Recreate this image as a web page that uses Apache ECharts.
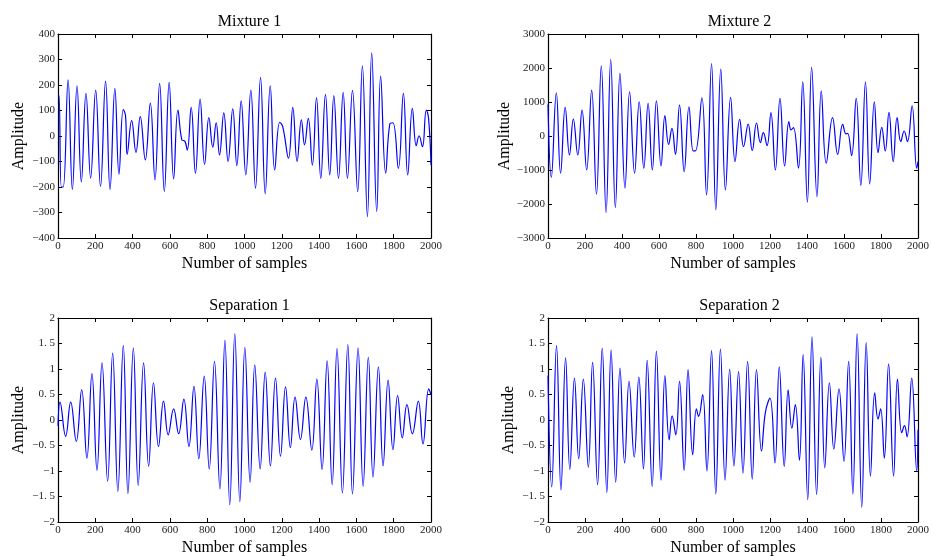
<!DOCTYPE html>
<html>
<head>
<meta charset="utf-8">
<script src="https://cdn.jsdelivr.net/npm/echarts@6/dist/echarts.min.js"></script>
<style>
html, body { margin: 0; padding: 0; background: #fff; }
#chart { width: 932px; height: 557px; }
</style>
</head>
<body>
<div id="chart"></div>
<script>
// [sample, amplitude] (peaks, troughs, shoulders)
var mixture1 = [[0,160],[5,160],[18,-200],[28,-200],[54,220],[77,-210],[102,197],[125,-180],[150,167],[175,-165],[202,180],[228,-198],[255,215],[279,-210],[305,187],[327,-150],[350,104],[362,80],[371,-72],[395,60],[418,-64],[441,76],[468,-94],[495,129],[520,-172],[545,206],[570,-218],[596,210],[620,-168],[643,102],[664,-15],[680,-20],[693,-55],[714,112],[737,-146],[762,145],[786,-111],[809,72],[830,-44],[848,52],[866,-74],[889,91],[912,-100],[937,106],[959,-116],[982,138],[1007,-153],[1034,180],[1059,-205],[1086,230],[1111,-227],[1138,197],[1162,-133],[1189,54],[1205,37],[1236,-87],[1259,112],[1282,-100],[1305,63],[1322,-35],[1342,69],[1364,-114],[1386,151],[1409,-166],[1434,163],[1457,-153],[1479,158],[1504,-166],[1529,171],[1552,-166],[1579,179],[1607,-218],[1632,275],[1659,-316],[1682,326],[1709,-296],[1730,235],[1757,-146],[1779,47],[1796,52],[1825,-127],[1852,167],[1875,-153],[1900,108],[1921,-38],[1936,1],[1954,-42],[1975,102],[1987,69],[2000,-114]];

var mixture2 = [[0,930],[18,-1213],[45,1272],[68,-1096],[93,841],[116,-558],[137,499],[161,-558],[184,763],[209,-998],[236,1350],[262,-1712],[288,2065],[314,-2250],[339,2250],[364,-2104],[389,1840],[416,-1536],[441,1301],[468,-1096],[493,1008],[518,-949],[541,959],[564,-998],[586,1037],[611,-881],[632,597],[652,-245],[670,225],[689,-538],[711,910],[736,-1047],[762,861],[785,-440],[797,-440],[832,1125],[857,-1732],[884,2133],[907,-2172],[934,1967],[959,-1585],[987,1135],[1011,-753],[1036,489],[1057,-313],[1082,352],[1104,-430],[1127,382],[1148,-196],[1164,98],[1184,-284],[1205,685],[1229,-998],[1254,1106],[1279,-881],[1302,421],[1314,176],[1327,245],[1354,-949],[1377,1595],[1402,-1947],[1425,2016],[1454,-1781],[1477,1331],[1504,-802],[1538,538],[1566,-538],[1593,342],[1611,59],[1620,80],[1641,-577],[1666,1106],[1691,-1458],[1716,1595],[1739,-1409],[1764,1008],[1784,-489],[1804,254],[1823,-440],[1843,695],[1866,-753],[1887,538],[1907,-166],[1925,147],[1943,-166],[1968,890],[1993,-949],[2000,-753]];

var separation1 = [[0,-0.12],[11,0.35],[41,-0.32],[68,0.35],[98,-0.42],[127,0.59],[155,-0.75],[182,0.91],[209,-0.99],[236,1.12],[266,-1.2],[293,1.31],[321,-1.4],[350,1.46],[375,-1.44],[404,1.41],[430,-1.28],[459,1.12],[486,-0.91],[512,0.73],[539,-0.52],[566,0.37],[591,-0.29],[620,0.22],[647,-0.27],[675,0.41],[702,-0.52],[729,0.66],[755,-0.76],[784,0.86],[811,-0.96],[839,1.15],[868,-1.35],[895,1.56],[921,-1.66],[948,1.69],[975,-1.6],[1002,1.42],[1030,-1.22],[1055,1.08],[1084,-0.96],[1111,0.94],[1139,-0.9],[1166,0.82],[1193,-0.71],[1220,0.65],[1246,-0.54],[1271,0.45],[1300,-0.38],[1329,0.45],[1361,-0.59],[1388,0.8],[1416,-0.97],[1443,1.16],[1470,-1.27],[1496,1.4],[1525,-1.43],[1554,1.48],[1579,-1.45],[1609,1.41],[1636,-1.3],[1664,1.23],[1689,-1.12],[1718,1.04],[1743,-0.9],[1770,0.78],[1796,-0.58],[1821,0.48],[1846,-0.35],[1871,0.3],[1900,-0.27],[1932,0.37],[1957,-0.47],[1988,0.61],[2000,0.5]];

var separation2 = [[0,0.87],[20,-1.31],[46,1.46],[70,-1.37],[95,1.22],[118,-0.97],[143,0.82],[166,-0.76],[191,0.8],[218,-0.93],[241,1.13],[268,-1.27],[293,1.41],[318,-1.42],[341,1.37],[366,-1.22],[389,1.02],[414,-0.84],[438,0.76],[466,-0.73],[491,0.84],[516,-0.96],[536,1.17],[563,-1.3],[586,1.35],[611,-1.18],[632,0.87],[655,-0.39],[671,0.08],[691,-0.29],[711,0.76],[736,-0.99],[757,0.99],[782,-0.68],[802,0.22],[814,0.07],[836,0.5],[859,-1.0],[884,1.36],[907,-1.45],[932,1.39],[957,-1.18],[982,1.0],[1005,-0.9],[1030,0.95],[1054,-1.04],[1079,1.15],[1104,-1.16],[1127,0.99],[1154,-0.61],[1175,0.15],[1200,0.43],[1227,-0.84],[1250,1.04],[1277,-0.91],[1298,0.59],[1318,-0.16],[1337,0.3],[1359,-0.79],[1379,1.28],[1404,-1.56],[1427,1.63],[1452,-1.46],[1475,1.23],[1496,-0.94],[1521,0.73],[1545,-0.57],[1573,0.61],[1600,-0.81],[1625,1.15],[1648,-1.45],[1671,1.69],[1696,-1.71],[1720,1.52],[1743,-1.1],[1766,0.53],[1784,0.02],[1798,0.22],[1818,-0.75],[1841,1.1],[1868,-1.1],[1889,0.8],[1912,-0.25],[1927,-0.11],[1941,-0.33],[1966,0.82],[1993,-1.0],[2000,-0.19]];

var titles = ['Mixture 1', 'Mixture 2', 'Separation 1', 'Separation 2'];
var signals = [mixture1, mixture2, separation1, separation2];
var yRanges = [[-400, 400, 100], [-3000, 3000, 1000], [-2, 2, 0.5], [-2, 2, 0.5]];
var xRange = [0, 2000, 200];

var font = 'Liberation Serif';
var boxes = [
    {left: 58, top: 34},
    {left: 548, top: 34},
    {left: 58, top: 318},
    {left: 548, top: 318}
];
var W = 373, H = 204;

function fmt(v) {
    return String(v).replace('.', '. ').replace('-', '\u2212');
}

var grid = [], xAxis = [], yAxis = [], title = [], series = [];
var lineStyle = {color: '#000', width: 1.2};
var tick = {show: true, inside: true, length: 4, lineStyle: {color: '#000', width: 1}};

boxes.forEach(function (b, i) {
    grid.push({left: b.left, top: b.top, width: W, height: H});
    title.push({
        text: titles[i], left: b.left + W / 2, top: b.top - 25, textAlign: 'center',
        textStyle: {fontFamily: font, fontSize: 16, fontWeight: 'normal', color: '#000'}
    });
    var yr = yRanges[i];
    xAxis.push({
        type: 'value', gridIndex: i, min: xRange[0], max: xRange[1], interval: xRange[2],
        position: 'bottom', splitLine: {show: false},
        axisLine: {show: true, onZero: false, lineStyle: lineStyle}, axisTick: tick,
        axisLabel: {fontFamily: font, fontSize: 11, color: '#222', margin: 3, formatter: fmt},
        name: 'Number of samples', nameLocation: 'middle', nameGap: 18,
        nameTextStyle: {fontFamily: font, fontSize: 16, color: '#000'}
    });
    yAxis.push({
        type: 'value', gridIndex: i, min: yr[0], max: yr[1], interval: yr[2],
        position: 'left', splitLine: {show: false},
        axisLine: {show: true, onZero: false, lineStyle: lineStyle}, axisTick: tick,
        axisLabel: {fontFamily: font, fontSize: 11, color: '#222', margin: 3, formatter: fmt},
        name: 'Amplitude', nameLocation: 'middle', nameGap: 31, nameRotate: 90,
        nameTextStyle: {fontFamily: font, fontSize: 16, color: '#000'}
    });
    series.push({
        type: 'line', xAxisIndex: i, yAxisIndex: i, data: signals[i],
        showSymbol: false, smooth: 0.45,
        lineStyle: {color: '#0000ff', width: 1.2}
    });
});

// top and right frame with inner ticks
boxes.forEach(function (b, i) {
    var yr = yRanges[i];
    xAxis.push({
        type: 'value', gridIndex: i, min: xRange[0], max: xRange[1], interval: xRange[2],
        position: 'top', splitLine: {show: false},
        axisLine: {show: true, onZero: false, lineStyle: lineStyle}, axisTick: tick, axisLabel: {show: false}
    });
    yAxis.push({
        type: 'value', gridIndex: i, min: yr[0], max: yr[1], interval: yr[2],
        position: 'right', splitLine: {show: false},
        axisLine: {show: true, onZero: false, lineStyle: lineStyle}, axisTick: tick, axisLabel: {show: false}
    });
});

var myChart = echarts.init(document.getElementById('chart'));
myChart.setOption({
    animation: false,
    backgroundColor: '#fff',
    title: title,
    grid: grid,
    xAxis: xAxis,
    yAxis: yAxis,
    series: series
});
</script>
</body>
</html>
